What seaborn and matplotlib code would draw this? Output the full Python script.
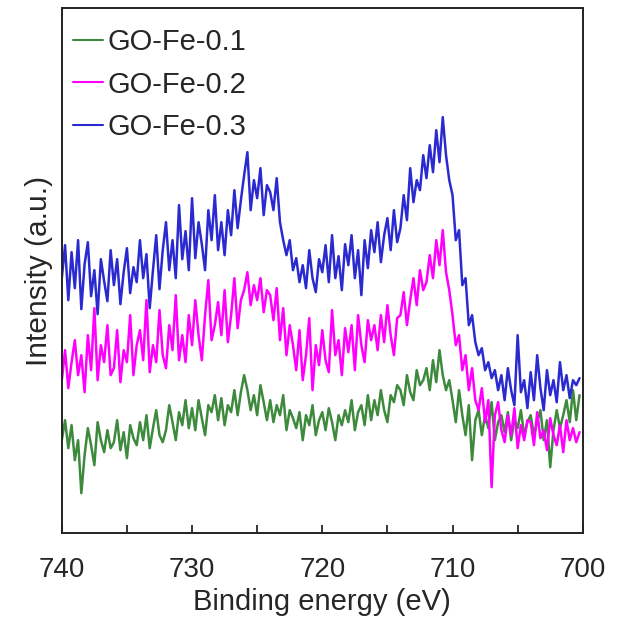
import numpy as np
import pandas as pd
import seaborn as sns
import matplotlib
matplotlib.use('Agg')
import matplotlib.pyplot as plt

# binding energy grid, 0.25 eV step
energy = np.arange(740, 700, -0.25)

go_fe_01 = [
    100, 120, 92, 115, 80, 100, 47, 85,
    112, 95, 75, 118, 100, 88, 110, 92,
    98, 120, 90, 108, 82, 115, 102, 95,
    118, 100, 125, 92, 112, 130, 105, 98,
    110, 135, 118, 100, 128, 115, 140, 112,
    132, 110, 140, 122, 105, 135, 128, 145,
    120, 142, 115, 135, 128, 150, 125, 148,
    165, 150, 130, 145, 125, 155, 138, 120,
    140, 118, 135, 125, 145, 110, 130, 122,
    112, 128, 100, 125, 115, 135, 105, 120,
    128, 110, 132, 118, 100, 125, 115, 130,
    118, 140, 110, 128, 135, 115, 145, 120,
    140, 125, 150, 130, 118, 145, 138, 155,
    150, 135, 165, 148, 140, 170, 155, 160,
    172, 150, 180, 158, 190, 165, 150, 160,
    140, 118, 150, 125, 105, 135, 80, 120,
    130, 105, 125, 112, 138, 100, 118, 125,
    108, 128, 100, 120, 112, 130, 105, 118,
    125, 105, 118, 130, 100, 120, 73, 110,
    130, 112, 125, 140, 118, 150, 120, 145,
]

go_fe_02 = [
    160, 190, 152, 178, 200, 165, 185, 148,
    205, 170, 232, 160, 195, 178, 215, 165,
    172, 210, 158, 190, 178, 225, 165, 195,
    210, 180, 240, 168, 195, 178, 230, 185,
    172, 215, 190, 245, 180, 205, 178, 225,
    195, 240, 205, 180, 225, 260, 200, 215,
    238, 205, 250, 198, 225, 262, 212, 240,
    250, 268, 235, 255, 240, 262, 228, 250,
    245, 220, 252, 200, 232, 185, 215, 195,
    170, 210, 160, 185, 222, 150, 195, 175,
    210, 180, 168, 230, 185, 200, 165, 212,
    188, 215, 170, 225, 195, 178, 220, 200,
    215, 190, 225, 198, 235, 205, 185, 222,
    225, 248, 215, 240, 262, 235, 270, 250,
    258, 285, 262, 300, 275, 310, 268, 250,
    225, 195, 205, 170, 185, 150, 172, 140,
    130, 152, 118, 140, 53, 125, 138, 110,
    98, 125, 105, 132, 92, 115, 100, 120,
    118, 95, 128, 102, 110, 90, 122, 105,
    95, 115, 88, 120, 100, 112, 98, 108,
]

go_fe_03 = [
    262, 295, 240, 288, 252, 300, 231, 276,
    298, 244, 270, 226, 281, 259, 239, 290,
    255, 281, 236, 268, 292, 247, 273, 258,
    300, 262, 286, 232, 270, 305, 251, 290,
    318, 270, 300, 262, 335, 281, 309, 270,
    342, 282, 318, 296, 270, 330, 300, 345,
    290, 318, 285, 330, 305, 350, 312, 340,
    365, 388, 330, 360, 342, 372, 325, 355,
    348, 330, 362, 318, 300, 285, 300, 270,
    282, 258, 275, 252, 290, 262, 248, 281,
    268, 295, 258, 305, 262, 284, 250, 296,
    275, 305, 262, 290, 245, 300, 272, 310,
    288, 318, 278, 305, 322, 290, 330, 298,
    312, 345, 320, 372, 338, 360, 350, 385,
    362, 395, 368, 410, 378, 423, 385, 360,
    345, 300, 310, 255, 262, 215, 225, 198,
    185, 192, 170, 178, 162, 170, 150, 165,
    140, 172, 150, 135, 205, 148, 160, 132,
    168, 140, 185, 152, 130, 170, 145, 160,
    138, 178, 150, 165, 142, 160, 155, 162,
]

labels = ['GO-Fe-0.1', 'GO-Fe-0.2', 'GO-Fe-0.3']
colors = ['#3d8a3d', '#ff00ff', '#2a2ad0']

df = pd.concat([
    pd.DataFrame({'energy': energy, 'intensity': vals, 'sample': lab})
    for vals, lab in zip([go_fe_01, go_fe_02, go_fe_03], labels)
])

sns.set_style('white')
plt.rcParams['font.family'] = ['Liberation Sans', 'DejaVu Sans']

fig = plt.figure(figsize=(6.18, 6.28), dpi=100)
ax = fig.add_axes([0.100, 0.151, 0.843, 0.836])

sns.lineplot(data=df, x='energy', y='intensity', hue='sample',
             palette=colors, linewidth=1.8, ax=ax, sort=False)

ax.set_xlim(740, 700)
ax.set_ylim(7, 532)
ax.set_xticks(np.arange(740, 699, -5))
ax.set_xticklabels(['740', '', '730', '', '720', '', '710', '', '700'])
ax.set_yticks([])
ax.tick_params(axis='x', direction='in', length=6, width=1.3,
               labelsize=20, pad=17, bottom=True)
for s in ax.spines.values():
    s.set_linewidth(1.4)
    s.set_color('#222222')

ax.set_xlabel('Binding energy (eV)', fontsize=21, labelpad=4)
ax.set_ylabel('Intensity (a.u.)', fontsize=21.5, labelpad=6)

leg = ax.legend(loc='upper left', frameon=False, fontsize=21,
                handlelength=1.05, handletextpad=0.15, labelspacing=0.5,
                borderaxespad=0, borderpad=0, bbox_to_anchor=(0.021, 0.962))
for l in leg.get_lines():
    l.set_linewidth(1.5)

fig.savefig('out.png', dpi=100)
